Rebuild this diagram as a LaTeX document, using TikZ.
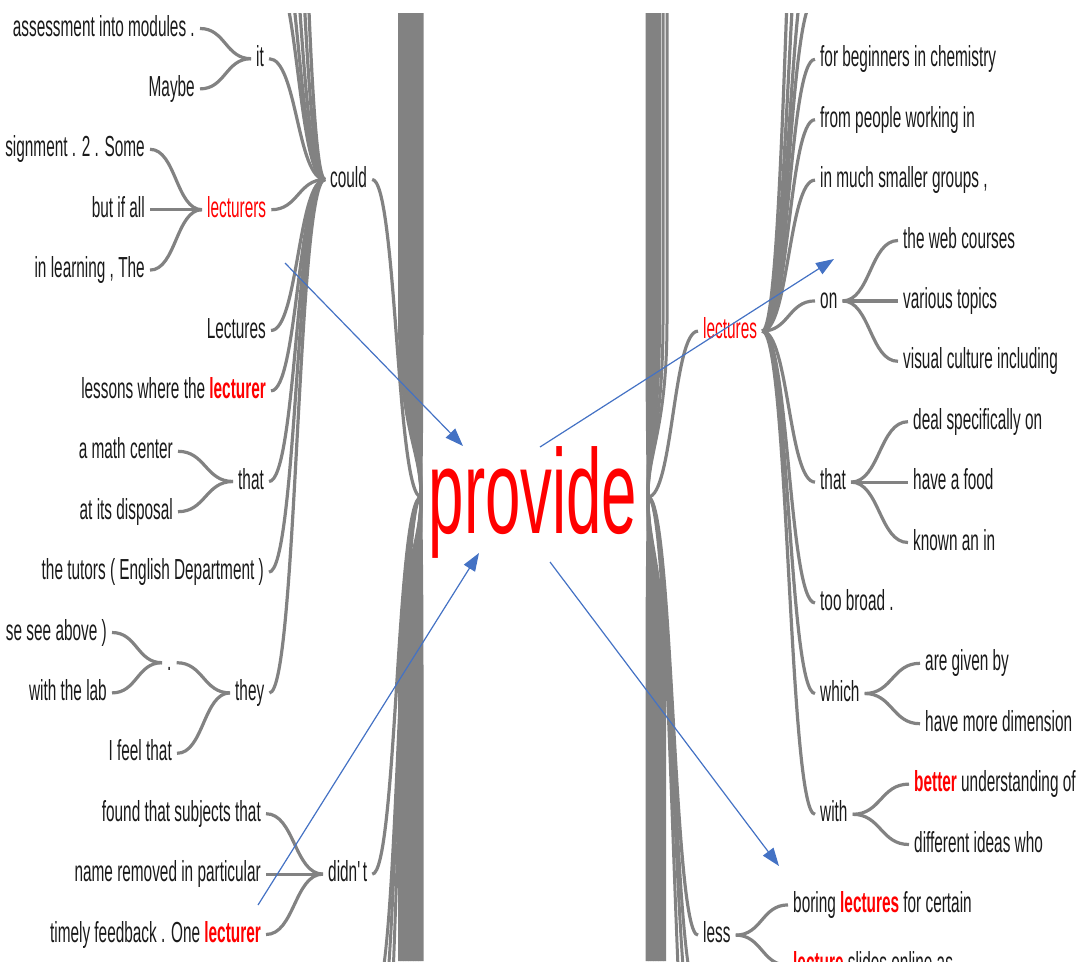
\documentclass[tikz,border=0pt]{standalone}
\usepackage{fontspec}
\setmainfont[FakeStretch=0.53]{Liberation Sans}
\usepackage{tikz}
\usetikzlibrary{calc,arrows.meta}
\definecolor{treegray}{RGB}{130,130,130}
\definecolor{wordink}{RGB}{26,26,26}
\definecolor{hitred}{RGB}{255,0,0}
\definecolor{noteblue}{RGB}{68,114,196}
\newcommand\hitword[1]{{\color{hitred}\bfseries #1}}
\tikzset{
  word/.style={text=wordink, font=\fontsize{29pt}{34pt}\selectfont, inner xsep=5pt,
               inner ysep=0pt, text height=21pt, text depth=6pt},
  wordL/.style={word, anchor=east},
  wordR/.style={word, anchor=west},
  treeline/.style={draw=treegray, line width=3.2pt},
  bundle/.style={draw=treegray, line width=3pt},
  tlink/.style={treeline, to path={let \p1=(\tikztostart), \p2=(\tikztotarget) in
      .. controls ({(\x1+\x2)/2},\y1) and ({(\x1+\x2)/2},\y2) .. (\tikztotarget)}},
  note/.style={draw=noteblue, line width=1.2pt, -{Triangle[length=18pt,width=13pt]}}
}

\begin{document}
\begin{tikzpicture}[x=1pt, y=-1pt]
  \useasboundingbox (0,0) rectangle (1078,961);

  % root word
  \node[font=\fontsize{120pt}{130pt}\selectfont, text=hitred, anchor=base,
        inner sep=0pt] (provide) at (533,533) {provide};
  \coordinate (pl) at (421,497);
  \coordinate (pr) at (648,497);

  % left side, outer words
  \node[wordL] (asmt) at (200,28.5) {assessment into modules .};
  \node[wordL] (maybe) at (200,88.9) {Maybe};
  \node[wordL] (sign) at (150,149.3) {signment . 2 . Some};
  \node[wordL] (butif) at (150,209.7) {but if all};
  \node[wordL] (learning) at (150,270.1) {in learning , The};
  \node[wordL] (mathc) at (178,451.3) {a math center};
  \node[wordL] (disposal) at (178,511.7) {at its disposal};
  \node[wordL] (above) at (112,632.5) {se see above )};
  \node[wordL] (lab) at (112,692.9) {with the lab};
  \node[wordL] (feel) at (177,753.3) {I feel that};
  \node[wordL] (subjects) at (266,813.7) {found that subjects that};
  \node[wordL] (particular) at (266,874.1) {name removed in particular};
  \node[wordL] (feedback) at (266,934.5) {timely feedback . One \hitword{lecturer}};

  % left side, middle words
  \node[wordR] (it) at (251,58.7) {it};
  \node[wordR, text=hitred] (lecturers) at (202,209.7) {lecturers};
  \node[wordL] (lecturesL) at (271,330.5) {Lectures};
  \node[wordL] (lessons) at (271,390.9) {lessons where the \hitword{lecturer}};
  \node[wordR] (thatL) at (233,481.5) {that};
  \node[wordL] (tutors) at (269,572.1) {the tutors ( English Department )};
  \node[wordR] (dot) at (162,662.7) {.};
  \node[wordR] (they) at (230,692.9) {they};
  \node[wordR] (could) at (325,179.5) {could};
  \node[wordR] (didnt) at (323,874.1) {didn\textquotesingle t};

  % right side
  \node[wordR, text=hitred] (lectures) at (698,331.1) {lectures};
  \node[wordR] (beginners) at (815,59.3) {for beginners in chemistry};
  \node[wordR] (people) at (815,119.7) {from people working in};
  \node[wordR] (smaller) at (815,180.1) {in much smaller groups ,};
  \node[wordR] (on) at (815,300.9) {on};
  \node[wordR] (webcourses) at (898,240.5) {the web courses};
  \node[wordR] (topics) at (898,300.9) {various topics};
  \node[wordR] (culture) at (898,361.3) {visual culture including};
  \node[wordR] (thatR) at (815,482.1) {that};
  \node[wordR] (deal) at (908,421.7) {deal specifically on};
  \node[wordR] (food) at (908,482.1) {have a food};
  \node[wordR] (known) at (908,542.5) {known an in};
  \node[wordR] (broad) at (815,602.9) {too broad .};
  \node[wordR] (which) at (815,693.5) {which};
  \node[wordR] (given) at (920,663.3) {are given by};
  \node[wordR] (dimension) at (920,723.7) {have more dimension};
  \node[wordR] (with) at (815,814.3) {with};
  \node[wordR] (understanding) at (909,784.1) {\hitword{better} understanding of};
  \node[wordR] (ideas) at (909,844.5) {different ideas who};
  \node[wordR] (less) at (698,935.1) {less};
  \node[wordR] (boring) at (788,904.9) {boring \hitword{lectures} for certain};
  \node[wordR] (slides) at (788,965.3) {\hitword{lecture} slides online as};

  \begin{scope}
    \clip (0,13) rectangle (1078,961);
    % bundles into the root
    \foreach \bx in {399.5,402,...,424}{
      \coordinate (bt) at (\bx,13);
      \coordinate (bb) at (\bx,961);
      \draw[bundle] (bt) -- (\bx,320) .. controls (\bx,430) and (421,450) .. (pl);
      \draw[bundle] (bb) -- (\bx,680) .. controls (\bx,570) and (421,545) .. (pl);
    }
    \foreach \bx in {647,649.5,...,659.5,663,667}{
      \coordinate (bt) at (\bx,13);
      \draw[bundle] (bt) -- (\bx,320) .. controls (\bx,430) and (648,450) .. (pr);
    }
    \foreach \bx in {647,649.5,...,664.5}{
      \coordinate (bb) at (\bx,961);
      \draw[bundle] (bb) -- (\bx,680) .. controls (\bx,570) and (648,545) .. (pr);
    }
    \foreach \fy [count=\k] in {994.9,1055.3,1176}{
      \coordinate (lowL\k) at (375,\fy);
      \draw[tlink, bundle] (lowL\k) to (pl);
    }
    \foreach \fy [count=\k] in {995.5,1055.9,1177}{
      \coordinate (lowR\k) at (698,\fy);
      \draw[tlink, bundle] (pr) to (lowR\k);
    }

    % left links
    \foreach \w in {asmt,maybe} \draw[tlink] (\w.east) to (it.west);
    \foreach \w in {sign,butif,learning} \draw[tlink] (\w.east) to (lecturers.west);
    \foreach \w in {mathc,disposal} \draw[tlink] (\w.east) to (thatL.west);
    \foreach \w in {above,lab} \draw[tlink] (\w.east) to (dot.west);
    \foreach \w in {dot,feel} \draw[tlink] (\w.east) to (they.west);
    \foreach \w in {subjects,particular,feedback} \draw[tlink] (\w.east) to (didnt.west);
    \foreach \w in {it,lecturers,lecturesL,lessons,thatL,tutors,they}
      \draw[tlink] (\w.east) to (could.west);
    \foreach \fy [count=\k] in {-31.9,-92.3,-213,-455,-900}{
      \coordinate (upC\k) at (271,\fy);
      \draw[tlink] (upC\k) to (could.west);
    }
    \draw[tlink] (could.east) to (pl);
    \draw[tlink] (didnt.east) to (pl);

    % right links
    \draw[tlink] (pr) to (lectures.west);
    \draw[tlink] (pr) to (less.west);
    \foreach \w in {beginners,people,smaller,on,thatR,broad,which,with}
      \draw[tlink] (lectures.east) to (\w.west);
    \foreach \fy [count=\k] in {-1.1,-61.5,-182.3,-423.9}{
      \coordinate (upL\k) at (815,\fy);
      \draw[tlink] (lectures.east) to (upL\k);
    }
    \foreach \w in {webcourses,topics,culture} \draw[tlink] (on.east) to (\w.west);
    \foreach \w in {deal,food,known} \draw[tlink] (thatR.east) to (\w.west);
    \foreach \w in {given,dimension} \draw[tlink] (which.east) to (\w.west);
    \foreach \w in {understanding,ideas} \draw[tlink] (with.east) to (\w.west);
    \foreach \w in {boring,slides} \draw[tlink] (less.east) to (\w.west);
  \end{scope}

  % blue arrows
  \coordinate (nwfrom) at (285,263);
  \coordinate (nwto) at (463,446);
  \coordinate (nefrom) at (540,447);
  \coordinate (neto) at (834,259);
  \coordinate (swfrom) at (258,905);
  \coordinate (swto) at (479,553);
  \coordinate (sefrom) at (550,562);
  \coordinate (seto) at (779,866);
  \draw[note] (nwfrom) -- (nwto);
  \draw[note] (nefrom) -- (neto);
  \draw[note] (swfrom) -- (swto);
  \draw[note] (sefrom) -- (seto);
\end{tikzpicture}
\end{document}
